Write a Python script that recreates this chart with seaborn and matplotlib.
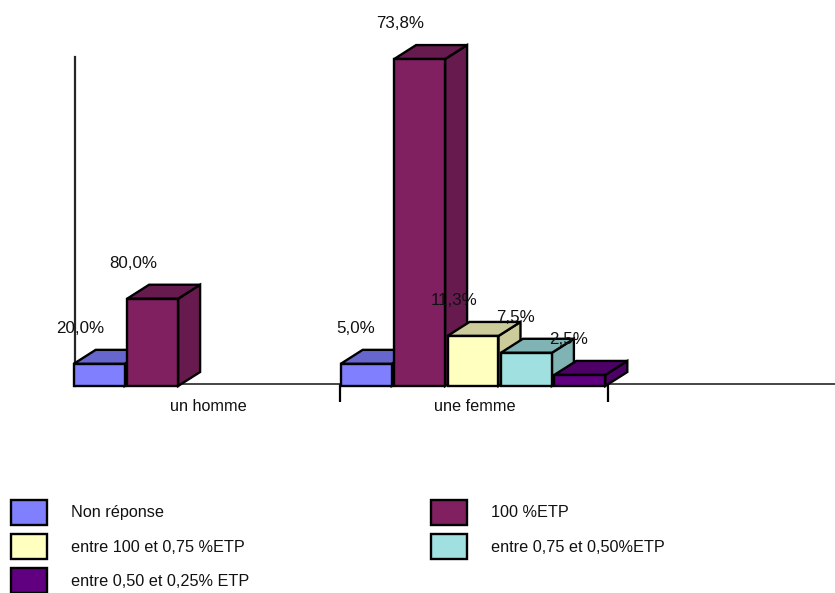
import matplotlib
matplotlib.use("Agg")
import matplotlib.pyplot as plt
import numpy as np
import pandas as pd
import seaborn as sns
from matplotlib.colors import to_rgb
from matplotlib.patches import Polygon
from matplotlib.transforms import offset_copy

categories = ["un homme", "une femme"]
reponses = ["Non réponse", "100 %ETP", "entre 100 et 0,75 %ETP",
            "entre 0,75 et 0,50%ETP", "entre 0,50 et 0,25% ETP"]
couleurs = ["#8080FF", "#802060", "#FFFFC0", "#A0E0E0", "#600080"]

# % affichés
pct_homme = [20.0, 80.0]
pct_femme = [5.0, 73.8, 11.3, 7.5, 2.5]
# hauteur dessinée : les barres "homme" ne suivent pas la même échelle que les %
hauteur_homme = [5.0, 19.7]
hauteur_femme = [5.0, 73.8, 11.3, 7.5, 2.5]

W, H = 835, 593
PX_X = 267.0   # largeur d'une catégorie en pixels
PX_Y = 4.43    # pixels par unité en y
X0_PX = 206.0  # centre de "un homme"
Y0_PX = 386.0  # base des barres
DX, DY = 22 / PX_X, 14 / PX_Y  # profondeur de l'effet 3D
FS = 11.7

sns.set_style("white")
plt.rcParams["font.family"] = ["Liberation Sans", "DejaVu Sans"]
plt.rcParams["font.size"] = FS

df = pd.DataFrame({
    "categorie": [categories[0]] * 2 + [categories[1]] * 5,
    "reponse": reponses[:2] + reponses,
    "hauteur": hauteur_homme + hauteur_femme,
    "pct": pct_homme + pct_femme,
})

fig = plt.figure(figsize=(W / 100, H / 100), dpi=100)
ax = fig.add_axes([0, 0, 1, 1])
ax.patch.set_alpha(0)

sns.barplot(data=df, x="categorie", y="hauteur", hue="reponse",
            order=categories, hue_order=reponses,
            palette=dict(zip(reponses, couleurs)), saturation=1,
            width=1, gap=0.045, dodge=True, errorbar=None,
            edgecolor="black", linewidth=1.7, ax=ax)

ax.set_xlim(-X0_PX / PX_X, (W - X0_PX) / PX_X)
ax.set_ylim(-(H - Y0_PX) / PX_Y, Y0_PX / PX_Y)
ax.set_xlabel("")
ax.set_ylabel("")

# faces du dessus et de côté à partir des barres de seaborn
bars = sorted([p for p in ax.patches if p.get_height() > 0], key=lambda p: p.get_x())
offset = lambda dx, dy: offset_copy(ax.transData, fig=fig, x=dx, y=dy, units="dots")
for i, (bar, row) in enumerate(zip(bars, df.itertuples())):
    x0, x1 = bar.get_x(), bar.get_x() + bar.get_width()
    top = bar.get_height()
    sombre = np.array(to_rgb(bar.get_facecolor()[:3])) * 0.8
    z = 3 + i
    ax.add_patch(Polygon([(x1, 0), (x1 + DX, DY), (x1 + DX, top + DY), (x1, top)],
                         closed=True, fc=sombre, ec="black", lw=1.7, zorder=z))
    ax.add_patch(Polygon([(x0, top), (x0 + DX, top + DY), (x1 + DX, top + DY), (x1, top)],
                         closed=True, fc=sombre, ec="black", lw=1.7, zorder=z))
    bar.set_zorder(z + 0.5)
    # les étiquettes courtes sont un peu plus à droite dans l'original
    decal = 5 if row.pct >= 10 else 8.5
    ax.text((x0 + x1) / 2, top, f"{row.pct:.1f}%".replace(".", ","),
            transform=offset(decal, 35.5), ha="right", va="center",
            fontsize=12.2, color="#111111", zorder=50)

# axes
for s in ("top", "right"):
    ax.spines[s].set_visible(False)
ax.spines["bottom"].set_position(("data", 2 / PX_Y))
ax.spines["bottom"].set_bounds((75 - X0_PX) / PX_X, (W - X0_PX) / PX_X)
ax.spines["bottom"].set_linewidth(1.2)
ax.spines["left"].set_position(("data", (75 - X0_PX) / PX_X))
ax.spines["left"].set_bounds(0, (Y0_PX - 57) / PX_Y)
ax.spines["left"].set_linewidth(1.6)
ax.set_yticks([])
ax.set_xticks([0.008, 1.008], categories)
ax.set_xticks([(340.5 - X0_PX) / PX_X, (608.5 - X0_PX) / PX_X], minor=True)
ax.tick_params(axis="x", which="major", length=0, pad=11, labelsize=FS, colors="#111111")
ax.tick_params(axis="x", which="minor", bottom=True, length=13, width=1.6, color="black")

# légende : remplie par colonnes, d'où l'ordre des entrées
handles, labels = ax.get_legend_handles_labels()
ordre = [0, 2, 4, 1, 3]
ax.legend([handles[i] for i in ordre], [labels[i] for i in ordre],
          ncol=2, loc="upper left", bbox_to_anchor=(11 / W, 1 - 499.5 / H),
          bbox_transform=fig.transFigure, frameon=False, borderpad=0, borderaxespad=0,
          handlelength=2.2, handleheight=2.02, handletextpad=1.52,
          labelspacing=0.55, columnspacing=11.16, fontsize=FS,
          labelcolor="#111111")

fig.savefig("out.png", dpi=100)
